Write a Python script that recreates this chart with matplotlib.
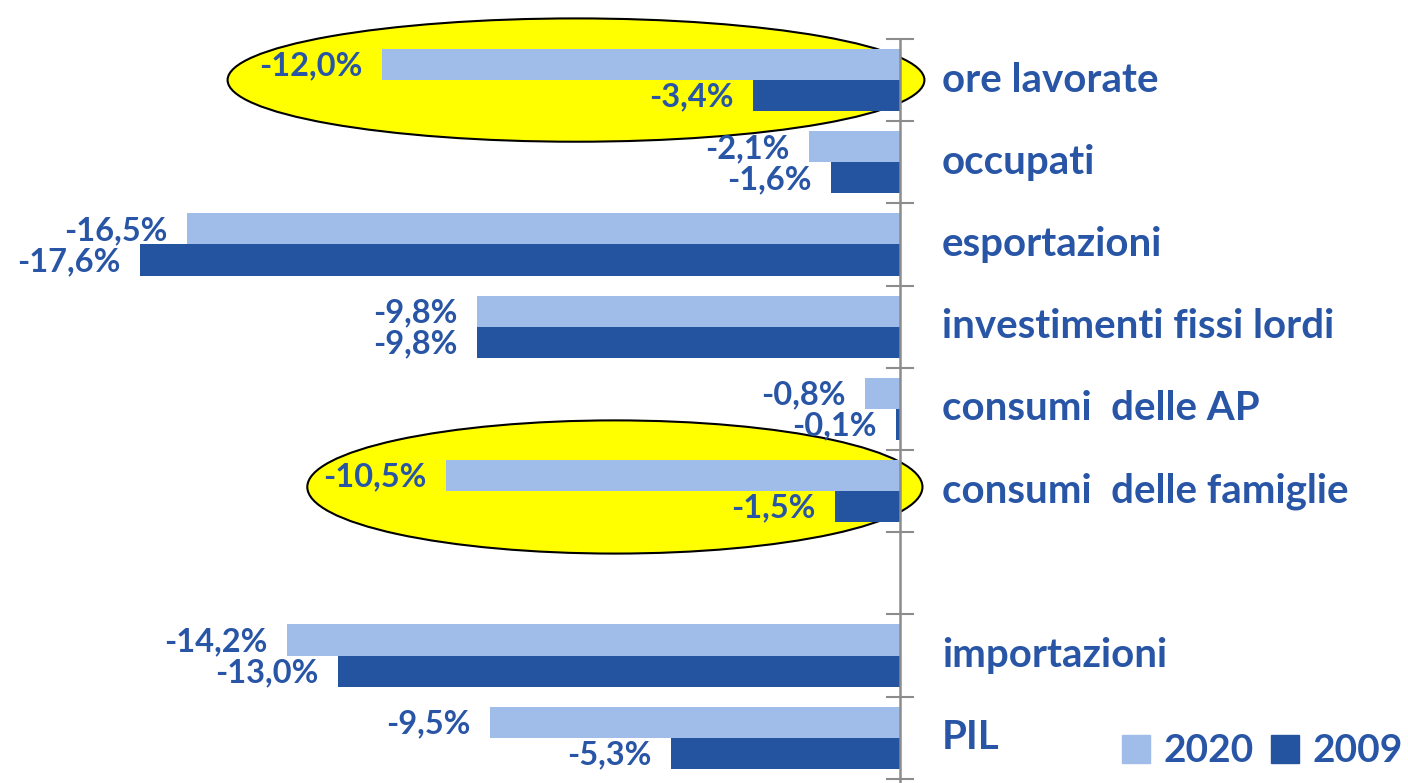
import numpy as np
import matplotlib
matplotlib.use("Agg")
import matplotlib.pyplot as plt
from matplotlib.patches import Ellipse, Patch

categories = ["ore lavorate", "occupati", "esportazioni", "investimenti fissi lordi",
              "consumi  delle AP", "consumi  delle famiglie", "", "importazioni", "PIL"]
values_2020 = [-12.0, -2.1, -16.5, -9.8, -0.8, -10.5, np.nan, -14.2, -9.5]
values_2009 = [-3.4, -1.6, -17.6, -9.8, -0.1, -1.5, np.nan, -13.0, -5.3]
series_labels = ["2020", "2009"]

c_light = "#A0BCE8"
c_dark = "#2454A0"
c_text = "#2855A5"

plt.rcParams["font.family"] = ["Lato", "DejaVu Sans"]

fig = plt.figure(figsize=(14.08, 7.83), dpi=100)
ax = fig.add_axes([0, 0, 1, 1])
ax.set_xlim(-900 / 43.2, 508 / 43.2)
ax.set_ylim(8.551, -0.974)
ax.axis("off")

# highlight ellipses
ax.add_patch(Ellipse((-7.5, 0.0), 16.13, 1.5, facecolor="#FFFF00", edgecolor="black", lw=1.5, zorder=1))
ax.add_patch(Ellipse((-6.6, 4.95), 14.24, 1.62, facecolor="#FFFF00", edgecolor="black", lw=1.5, zorder=1))

y = np.arange(len(categories))
h = 0.378
ax.barh(y - h / 2, values_2020, height=h, color=c_light, zorder=2)
ax.barh(y + h / 2, values_2009, height=h, color=c_dark, zorder=2)

# axis line with ticks
ax.plot([0, 0], [-0.5, 8.551], color="#8C8C8C", lw=1.8, zorder=3, clip_on=False)
for k in range(len(categories) + 1):
    ax.plot([-0.3, 0.3], [k - 0.5, k - 0.5], color="#8C8C8C", lw=1.5, zorder=3)

def fmt(v):
    return f"{v:.1f}%".replace(".", ",")

for i, (a, b) in enumerate(zip(values_2020, values_2009)):
    if not np.isnan(a):
        ax.text(a - 0.45, i - h / 2 + 0.02, fmt(a), ha="right", va="center", fontsize=23.5,
                fontweight="bold", color=c_text, zorder=4)
    if not np.isnan(b):
        ax.text(b - 0.45, i + h / 2 + 0.02, fmt(b), ha="right", va="center", fontsize=23.5,
                fontweight="bold", color=c_text, zorder=4)
    if categories[i]:
        ax.text(0.97, i, categories[i], ha="left", va="center", fontsize=29,
                fontweight="bold", color=c_text, zorder=4)

handles = [Patch(color=c_light), Patch(color=c_dark)]
leg = ax.legend(handles, series_labels, loc="lower right", ncol=2, frameon=False,
                bbox_to_anchor=(1.016, -0.016), handlelength=0.72, handleheight=0.72,
                handletextpad=0.35, columnspacing=0.45, borderpad=0.2,
                prop={"family": "Lato", "weight": "bold", "size": 28})
for t in leg.get_texts():
    t.set_color(c_text)

fig.savefig("out.png", dpi=100)
